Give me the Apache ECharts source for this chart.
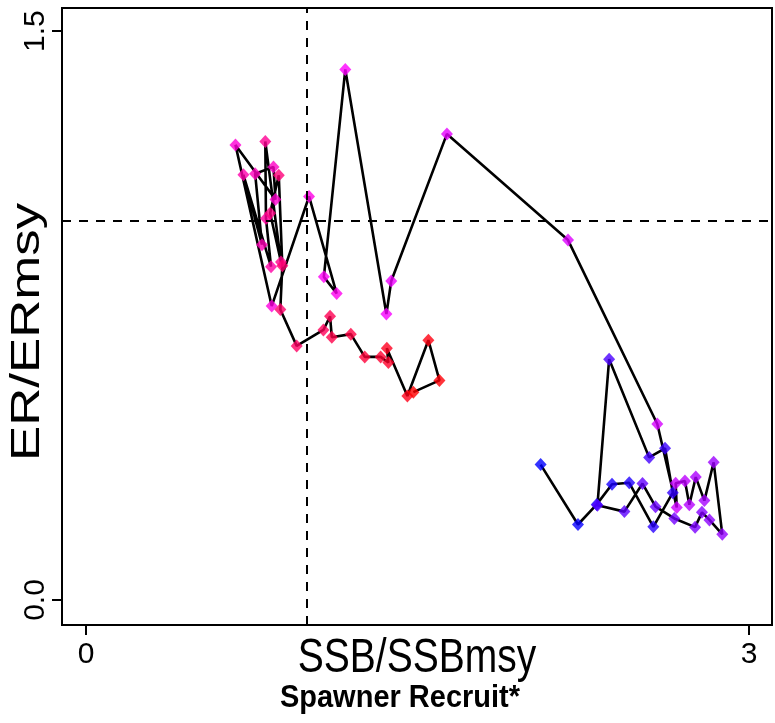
<!DOCTYPE html>
<html>
<head>
<meta charset="utf-8">
<script src="https://cdn.jsdelivr.net/npm/echarts@6/dist/echarts.min.js"></script>
<style>
html,body{margin:0;padding:0;background:#fff;}
#chart{width:775px;height:723px;}
</style>
</head>
<body>
<div id="chart"></div>
<script>
// SSB/SSBmsy values (time order)
const ssbRatio = [
  2.057, 2.226, 2.311, 2.380, 2.458, 2.567, 2.655, 2.620, 2.548, 2.367,
  2.314, 2.436, 2.518, 2.577, 2.662, 2.756, 2.787, 2.821, 2.879, 2.840,
  2.798, 2.759, 2.730, 2.710, 2.668, 2.673, 2.585, 2.181, 1.633, 1.381,
  1.359, 1.173, 1.076, 1.134, 1.009, 0.840, 0.676, 0.857, 0.848, 0.765,
  0.796, 0.712, 0.837, 0.814, 0.811, 0.882, 0.833, 0.872, 0.888, 0.879,
  0.953, 1.074, 1.104, 1.112, 1.198, 1.261, 1.333, 1.368, 1.361, 1.454,
  1.549, 1.599, 1.481
];
// ER/ERmsy values (time order)
const erRatio = [
  0.357, 0.199, 0.252, 0.305, 0.309, 0.193, 0.283, 0.400, 0.376, 0.635,
  0.250, 0.233, 0.307, 0.246, 0.215, 0.192, 0.231, 0.211, 0.173, 0.363,
  0.262, 0.324, 0.251, 0.314, 0.308, 0.244, 0.464, 0.949, 1.229, 0.841,
  0.754, 1.399, 0.852, 0.808, 1.064, 0.775, 1.200, 1.056, 1.142, 1.124,
  0.937, 1.121, 0.879, 1.006, 1.209, 0.891, 1.020, 1.120, 0.881, 0.766,
  0.670, 0.712, 0.748, 0.693, 0.701, 0.641, 0.641, 0.626, 0.664, 0.538,
  0.685, 0.579, 0.548
];
const xTicks = [0, 3];
const yTicks = [0, 1.5];
const xTickLabels = ['0', '3'];
const yTickLabels = ['0.0', '1.5'];
const refX = 1;
const refY = 1;
const xTitle = 'SSB/SSBmsy';
const yTitle = 'ER/ERmsy';
const subTitle = 'Spawner Recruit*';
const rampColors = ['#0000ff', '#ff00ff', '#ff0000'];

function hex(c){return [parseInt(c.slice(1,3),16),parseInt(c.slice(3,5),16),parseInt(c.slice(5,7),16)];}
function rampColor(t){
  const seg = t < 0.5 ? 0 : 1;
  const f = seg === 0 ? t/0.5 : (t-0.5)/0.5;
  const a = hex(rampColors[seg]), b = hex(rampColors[seg+1]);
  const c = a.map((v,i)=>Math.round(v + (b[i]-v)*f));
  return 'rgb(' + c.join(',') + ')';
}
const n = ssbRatio.length;
const pts = ssbRatio.map((x,i)=>[x, erRatio[i]]);

const chart = echarts.init(document.getElementById('chart'), null, {renderer:'canvas'});
const font = 'Liberation Sans, Arial, sans-serif';
chart.setOption({
  animation:false,
  backgroundColor:'#ffffff',
  grid:{left:62, right:3, top:8, bottom:98, containLabel:false, outerBoundsMode:'none',
        show:true, borderColor:'#000', borderWidth:2, backgroundColor:'transparent'},
  xAxis:{
    type:'value', min:-0.109, max:3.104,
    splitLine:{show:false},
    axisLine:{show:false, onZero:false},
    axisTick:{show:true, customValues:xTicks, length:10, inside:false, lineStyle:{color:'#000', width:2}},
    axisLabel:{show:true, customValues:xTicks, formatter:(v)=>xTickLabels[xTicks.indexOf(v)] ?? '', color:'#000', fontSize:30, fontFamily:font, margin:15}
  },
  yAxis:{
    type:'value', min:-0.066, max:1.561,
    splitLine:{show:false},
    axisLine:{show:false, onZero:false},
    axisTick:{show:true, customValues:yTicks, length:10, inside:false, lineStyle:{color:'#000', width:2}},
    axisLabel:{show:true, customValues:yTicks, rotate:90, formatter:(v)=>yTickLabels[yTicks.indexOf(v)] ?? '', color:'#000', fontSize:30, fontFamily:font, margin:11}
  },
  graphic:[
    {type:'text', x:417, y:659, scaleY:1.25,
     style:{text:xTitle, font:'39px ' + font, fill:'#000', align:'center', verticalAlign:'middle'}},
    {type:'text', x:28, y:332, rotation:Math.PI/2, scaleX:1.32,
     style:{text:yTitle, font:'40px ' + font, fill:'#000', align:'center', verticalAlign:'middle'}},
    {type:'text', x:400, y:698, scaleY:1.1,
     style:{text:subTitle, font:'bold 29px ' + font, fill:'#000', align:'center', verticalAlign:'middle'}}
  ],
  series:[
    {
      type:'line', data:pts, symbol:'none', z:2,
      lineStyle:{color:'#000', width:2.6},
      markLine:{
        silent:true, symbol:'none', label:{show:false},
        lineStyle:{color:'#000', type:[9,8], width:2},
        data:[{xAxis:refX},{yAxis:refY}]
      }
    },
    {
      type:'scatter', data:pts, symbol:'diamond', symbolSize:[12,13], z:3,
      itemStyle:{color:(p)=>rampColor(p.dataIndex/(n-1))}
    }
  ]
});
</script>
</body>
</html>
